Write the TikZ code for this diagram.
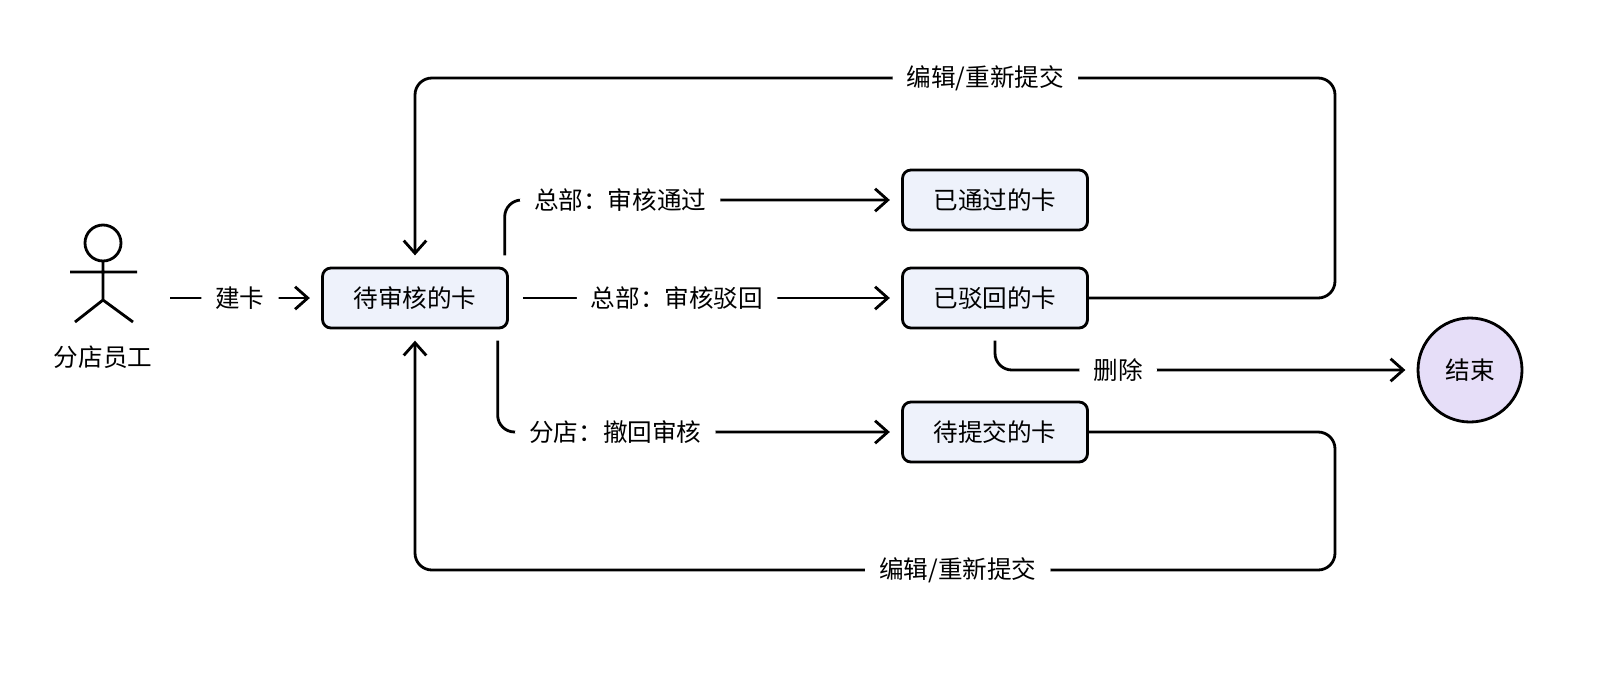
\documentclass[tikz,border=0pt]{standalone}
\usepackage{fontspec}
\setmainfont{Noto Sans CJK SC}
\usetikzlibrary{arrows.meta}
\definecolor{cardfill}{HTML}{EEF2FB}
\definecolor{endfill}{HTML}{E6DEF8}
\tikzset{
  card/.style={draw, rounded corners=6pt, fill=cardfill, minimum width=185*0.025cm, minimum height=60*0.025cm},
  flow/.style={line width=2pt, rounded corners=12pt, -{Straight Barb[length=9pt,width=16pt,line width=2pt]}},
  lbl/.style={fill=white, inner xsep=10pt},
}
\begin{document}
\begin{tikzpicture}[x=0.025cm,y=-0.025cm,line width=2pt,font=\fontsize{17.5}{20}\selectfont]
  \useasboundingbox (0,0) rectangle (1622,673);

  % actor
  \draw (103,243) circle (18);
  \draw (103,261) -- (103,300) (70,272) -- (137,272)
        (75,322) -- (103,300) -- (133,322);
  \node (staff) at (103,357) {分店员工};

  % cards
  \node[card] (pending) at (415,298) {待审核的卡};
  \node[card] (passed) at (995,200) {已通过的卡};
  \node[card] (rejected) at (995,298) {已驳回的卡};
  \node[card] (draft) at (995,432) {待提交的卡};
  \node[draw, circle, fill=endfill, minimum size=104*0.025cm] (end) at (1470,370) {结束};

  \coordinate (start) at (170,298);
  \draw[flow] (start) -- node[lbl] {建卡} ([xshift=-8pt]pending.west);

  \draw[flow] ([xshift=-3pt,yshift=8pt]pending.north east) |- node[lbl,pos=.65] {总部：审核通过} ([xshift=-8pt]passed.west);
  \draw[flow] ([xshift=10pt]pending.east) -- node[lbl,pos=.42] {总部：审核驳回} ([xshift=-8pt]rejected.west);
  \draw[flow] ([xshift=-8pt,yshift=-8pt]pending.south east) |- node[lbl,pos=.65] {分店：撤回审核} ([xshift=-8pt]draft.west);
  \draw[flow] ([yshift=-8pt]rejected.south) |- node[lbl,pos=.65] {删除} ([xshift=-8pt]end.west);

  \draw[flow] (rejected.east) -- (1335,298) -- (1335,78)
        -- node[lbl,pos=.38] {编辑/重新提交} (415,78) -- ([yshift=8pt]pending.north);
  \draw[flow] (draft.east) -- (1335,432) -- (1335,570)
        -- node[lbl,pos=.41] {编辑/重新提交} (415,570) -- ([yshift=-8pt]pending.south);
\end{tikzpicture}
\end{document}
